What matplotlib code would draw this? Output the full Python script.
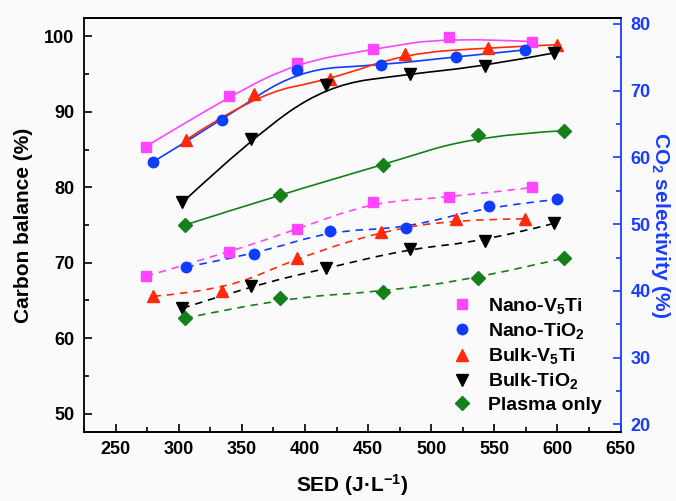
import matplotlib
matplotlib.use('Agg')
import matplotlib.pyplot as plt
import numpy as np
from matplotlib.path import Path
from matplotlib.patches import PathPatch
from matplotlib.ticker import MultipleLocator

plt.rcParams['font.family'] = ['Liberation Sans', 'DejaVu Sans']
plt.rcParams['font.weight'] = 'bold'
plt.rcParams['axes.labelweight'] = 'bold'
plt.rcParams['mathtext.default'] = 'regular'

# Carbon balance (%) vs SED, solid lines, left axis
nv_sed_cb = [274, 340, 394, 454, 514, 580]
nv_cb = [85.4, 92.1, 96.5, 98.3, 99.9, 99.3]
nt_sed_cb = [280, 334, 394, 460, 520, 574]
nt_cb = [83.4, 88.9, 95.6, 96.2, 97.3, 98.2]
bv_sed_cb = [306, 360, 420, 479, 545, 600]
bv_cb = [86.3, 92.3, 94.3, 97.7, 98.5, 98.9]
bt_sed_cb = [303, 357, 417, 483, 543, 597]
bt_cb = [78.0, 86.4, 93.5, 95.0, 96.1, 97.8]
po_sed_cb = [305, 380, 462, 537, 605]
po_cb = [75.0, 79.0, 83.0, 86.9, 87.5]

# CO2 selectivity (%) vs SED, dashed lines, right axis
nv_sed_sel = [274, 340, 394, 454, 514, 580]
nv_sel = [42.2, 45.8, 49.3, 53.3, 54.0, 55.5]
nt_sed_sel = [306, 360, 420, 480, 546, 600]
nt_sel = [43.6, 45.5, 49.0, 49.4, 52.7, 53.7]
bv_sed_sel = [280, 334, 394, 460, 520, 574]
bv_sel = [39.2, 40.0, 44.9, 48.9, 50.7, 50.8]
bt_sed_sel = [303, 357, 417, 483, 543, 597]
bt_sel = [37.4, 40.7, 43.4, 46.3, 47.5, 50.1]
po_sed_sel = [305, 380, 462, 537, 605]
po_sel = [35.9, 38.9, 39.9, 41.9, 44.9]

labels = ['Nano-V$_5$Ti', 'Nano-TiO$_2$', 'Bulk-V$_5$Ti', 'Bulk-TiO$_2$', 'Plasma only']
colours = ['#ff45ff', '#0d3dff', '#ff2a0a', '#000000', '#13801a']
markers = ['s', 'o', '^', 'v', 'D']
msizes = [6.5, 7.5, 8.5, 8.5, 7]

cb_series = [(nv_sed_cb, nv_cb), (nt_sed_cb, nt_cb), (bv_sed_cb, bv_cb),
             (bt_sed_cb, bt_cb), (po_sed_cb, po_cb)]
sel_series = [(nv_sed_sel, nv_sel), (nt_sed_sel, nt_sel), (bv_sed_sel, bv_sel),
              (bt_sed_sel, bt_sel), (po_sed_sel, po_sel)]


def smooth_path(x, y):
    # quadratic B-spline style curve using the points as control points
    p = np.column_stack([x, y]).astype(float)
    verts = [p[0]]
    codes = [Path.MOVETO]
    for i in range(1, len(p) - 1):
        end = p[-1] if i == len(p) - 2 else (p[i] + p[i + 1]) / 2
        verts += [p[i], end]
        codes += [Path.CURVE3, Path.CURVE3]
    if len(p) == 2:
        verts.append(p[1])
        codes.append(Path.LINETO)
    return Path(verts, codes)


fig = plt.figure(figsize=(6.76, 5.01), dpi=100, facecolor='#fafafa')
ax = fig.add_axes([0.1243, 0.1383, 0.7937, 0.8252])
ax.set_facecolor('#fafafa')
ax2 = ax.twinx()

handles = []
for (sx, sy), (dx, dy), lab, c, m, ms in zip(cb_series, sel_series, labels, colours, markers, msizes):
    ax.add_patch(PathPatch(smooth_path(sx, sy), facecolor='none', edgecolor=c, lw=1.2))
    h, = ax.plot(sx, sy, linestyle='none', marker=m, color=c, ms=ms, label=lab)
    handles.append(h)
    ax2.add_patch(PathPatch(smooth_path(dx, dy), facecolor='none', edgecolor=c, lw=1.2,
                            linestyle=(0, (4.5, 3.5))))
    ax2.plot(dx, dy, linestyle='none', marker=m, color=c, ms=ms)

ax.set_xlim(225, 650)
ax.set_ylim(47.6, 102.4)
ax2.set_ylim(18.9, 80.85)

ax.xaxis.set_major_locator(MultipleLocator(50))
ax.xaxis.set_minor_locator(MultipleLocator(25))
ax.yaxis.set_major_locator(MultipleLocator(10))
ax.yaxis.set_minor_locator(MultipleLocator(5))
ax2.yaxis.set_major_locator(MultipleLocator(10))
ax2.yaxis.set_minor_locator(MultipleLocator(5))

ax.tick_params(which='both', direction='in', width=1.2, labelsize=13, pad=7)
ax.tick_params(which='major', length=6)
ax.tick_params(which='minor', length=3.5)
ax.tick_params(axis='y', which='both', right=False)

blue = '#1a3cff'
ax2.tick_params(which='both', direction='in', width=1.2, color=blue, labelcolor=blue,
                labelsize=13, pad=7)
ax2.tick_params(which='major', length=6)
ax2.tick_params(which='minor', length=3.5)

for lbl in ax.get_xticklabels() + ax.get_yticklabels() + ax2.get_yticklabels():
    lbl.set_fontweight('bold')

for s in ['left', 'bottom', 'top']:
    ax.spines[s].set_linewidth(1.3)
ax.spines['right'].set_visible(False)
ax2.spines['right'].set_color(blue)
ax2.spines['right'].set_linewidth(1.3)
ax2.spines['left'].set_visible(False)
ax2.spines['top'].set_linewidth(1.3)
ax2.spines['bottom'].set_linewidth(1.3)

ax.set_xlabel('SED (J\u00b7L$^{-1}$)', fontsize=15, labelpad=10)
ax.set_ylabel('Carbon balance (%)', fontsize=15, labelpad=8)
fig.text(0.977, 0.551, 'CO$_2$ selectivity (%)', fontsize=15, fontweight='bold', color=blue,
         rotation=270, ha='center', va='center')

ax2.legend(handles=handles, loc='upper left', bbox_to_anchor=(0.645, 0.37), frameon=False,
           fontsize=14, handletextpad=0.6, labelspacing=0.26, handlelength=1.5)

fig.savefig('out.png', dpi=100, facecolor=fig.get_facecolor())
